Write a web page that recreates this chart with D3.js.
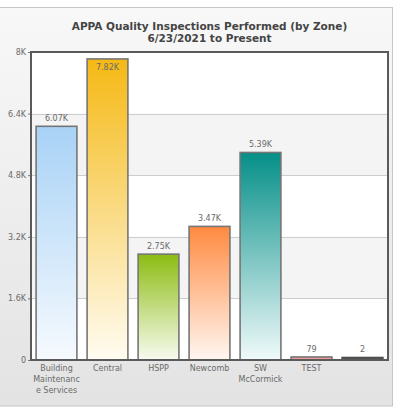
<!DOCTYPE html>
<html>
<head>
<meta charset="utf-8">
<script src="https://cdn.jsdelivr.net/npm/d3@7"></script>
<style>
  body { margin: 0; background: #fff; }
  svg { display: block; font-family: "DejaVu Sans", Verdana, sans-serif; }
</style>
</head>
<body>
<script>
// chart data
const categories = ["Building Maintenance Services", "Central", "HSPP", "Newcomb", "SW McCormick", "TEST", ""];
const tickLabels = [["Building", "Maintenanc", "e Services"], ["Central"], ["HSPP"], ["Newcomb"], ["SW", "McCormick"], ["TEST"], [""]];
const values = [6070, 7820, 2750, 3470, 5390, 79, 2];
const valueLabels = ["6.07K", "7.82K", "2.75K", "3.47K", "5.39K", "79", "2"];
const topColors = ["#a8d2f6", "#f5b914", "#8cbc12", "#ff8a40", "#058f88", "#f09a9a", "#505050"];
const bottomColors = ["#f6fafe", "#fffcf2", "#f8fbf0", "#fff7f2", "#f0fafa", "#f09a9a", "#505050"];
const yTicks = [0, 1600, 3200, 4800, 6400, 8000];
const yTickLabels = ["0", "1.6K", "3.2K", "4.8K", "6.4K", "8K"];

const W = 399, H = 412;
const plot = { left: 31, right: 388, top: 52, bottom: 360 };

const svg = d3.select("body").append("svg")
  .attr("width", W)
  .attr("height", H);

const defs = svg.append("defs");

// panel background
const bgGrad = defs.append("linearGradient").attr("id", "bg")
  .attr("x1", 0).attr("y1", 0).attr("x2", 0).attr("y2", 1);
bgGrad.append("stop").attr("offset", "0%").attr("stop-color", "#f8f8f8");
bgGrad.append("stop").attr("offset", "100%").attr("stop-color", "#e3e3e3");

svg.append("rect")
  .attr("x", -1).attr("y", 7.5)
  .attr("width", 393.5).attr("height", 398.5)
  .attr("fill", "url(#bg)")
  .attr("stroke", "#c6c6c6");

const x = d3.scaleBand()
  .domain(d3.range(categories.length))
  .range([plot.left, plot.right])
  .paddingInner(0.2)
  .paddingOuter(0.1);

const y = d3.scaleLinear()
  .domain([0, 8000])
  .range([plot.bottom, plot.top]);

// plot background + alternate bands
svg.append("rect")
  .attr("x", plot.left).attr("y", plot.top)
  .attr("width", plot.right - plot.left).attr("height", plot.bottom - plot.top)
  .attr("fill", "#fff");

svg.append("g").selectAll("rect")
  .data([[4800, 6400], [1600, 3200]])
  .join("rect")
  .attr("x", plot.left)
  .attr("y", d => y(d[1]))
  .attr("width", plot.right - plot.left)
  .attr("height", d => y(d[0]) - y(d[1]))
  .attr("fill", "#f4f4f4");

// gridlines
svg.append("g").selectAll("line")
  .data(yTicks.slice(1, -1))
  .join("line")
  .attr("x1", plot.left).attr("x2", plot.right)
  .attr("y1", d => Math.round(y(d)) + 0.5).attr("y2", d => Math.round(y(d)) + 0.5)
  .attr("stroke", "#cdcdcd");

// y axis labels
const yAxis = d3.axisLeft(y)
  .tickValues(yTicks)
  .tickFormat((d, i) => yTickLabels[i])
  .tickSize(3)
  .tickPadding(2);

svg.append("g")
  .attr("transform", `translate(${plot.left},0)`)
  .call(yAxis)
  .call(g => g.select(".domain").remove())
  .call(g => g.selectAll("line").attr("stroke", "#777"))
  .call(g => g.selectAll("text")
    .attr("fill", "#6a6a6a")
    .style("font-size", "8px")
    .style("font-family", "DejaVu Sans, sans-serif"));

// bar gradients
values.forEach((v, i) => {
  const g = defs.append("linearGradient").attr("id", "bar" + i)
    .attr("x1", 0).attr("y1", 0).attr("x2", 0).attr("y2", 1);
  g.append("stop").attr("offset", "0%").attr("stop-color", topColors[i]);
  g.append("stop").attr("offset", "100%").attr("stop-color", bottomColors[i]);
});

// bars
svg.append("g").selectAll("rect")
  .data(values)
  .join("rect")
  .attr("x", (d, i) => x(i))
  .attr("y", d => Math.min(y(d), plot.bottom - 2.5))
  .attr("width", x.bandwidth())
  .attr("height", d => plot.bottom - Math.min(y(d), plot.bottom - 2.5))
  .attr("fill", (d, i) => `url(#bar${i})`)
  .attr("stroke", (d, i) => i === 6 ? "#505050" : "#767676")
  .attr("stroke-width", 1.6);

// value labels
svg.append("g").selectAll("text")
  .data(values)
  .join("text")
  .attr("x", (d, i) => x(i) + x.bandwidth() / 2)
  .attr("y", d => {
    const top = Math.min(y(d), plot.bottom - 3);
    return top - 14 < plot.top ? top + 11 : top - 5;
  })
  .attr("text-anchor", "middle")
  .attr("fill", "#6a6a6a")
  .style("font-size", "8px")
  .text((d, i) => valueLabels[i]);

// frame
svg.append("rect")
  .attr("x", plot.left).attr("y", plot.top)
  .attr("width", plot.right - plot.left).attr("height", plot.bottom - plot.top)
  .attr("fill", "none")
  .attr("stroke", "#5a5a5a")
  .attr("stroke-width", 2);

// x labels
const xl = svg.append("g").selectAll("text")
  .data(tickLabels)
  .join("text")
  .attr("x", (d, i) => x(i) + x.bandwidth() / 2)
  .attr("y", 370.5)
  .attr("text-anchor", "middle")
  .attr("fill", "#6a6a6a")
  .style("font-size", "8px");
xl.selectAll("tspan")
  .data(d => d)
  .join("tspan")
  .attr("x", function () { return this.parentNode.getAttribute("x"); })
  .attr("dy", (d, i) => i === 0 ? 0 : 11)
  .text(d => d);

// titles
svg.append("text")
  .attr("x", (plot.left + plot.right) / 2)
  .attr("y", 30)
  .attr("text-anchor", "middle")
  .attr("fill", "#444")
  .style("font-size", "10.5px")
  .style("font-weight", "bold")
  .text("APPA Quality Inspections Performed (by Zone)");

svg.append("text")
  .attr("x", (plot.left + plot.right) / 2)
  .attr("y", 42)
  .attr("text-anchor", "middle")
  .attr("fill", "#444")
  .style("font-size", "10.5px")
  .style("font-weight", "bold")
  .text("6/23/2021 to Present");
</script>
</body>
</html>
